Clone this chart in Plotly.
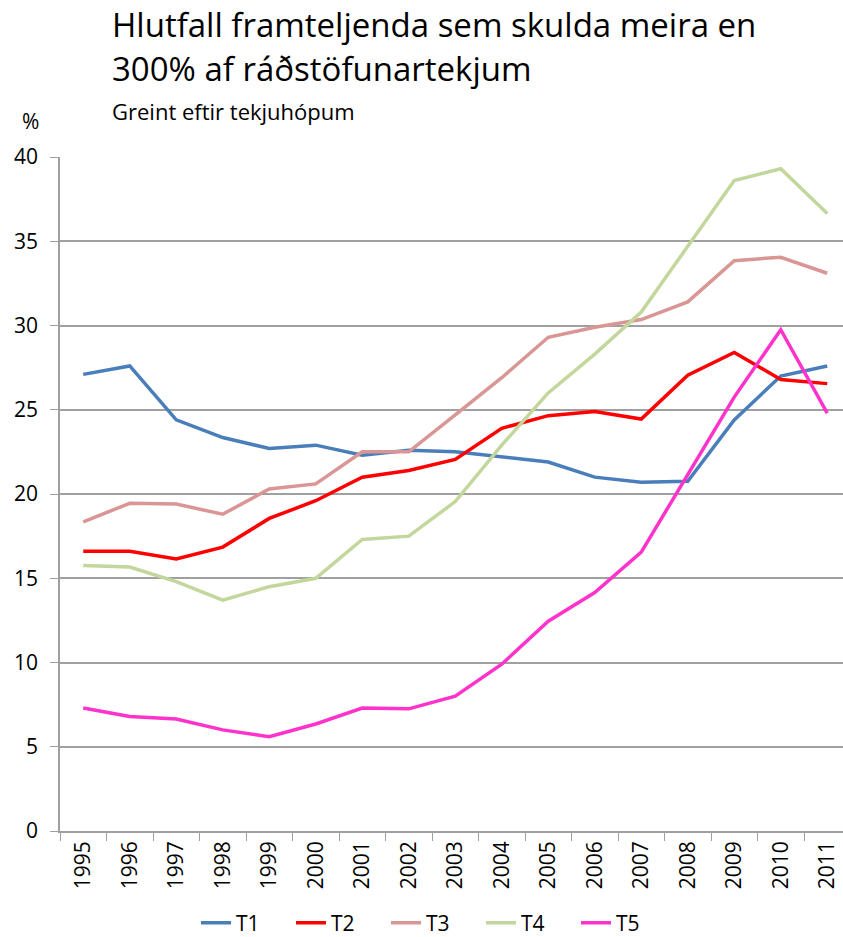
import plotly.graph_objects as go

years = [str(y) for y in range(1995, 2012)]
T1 = [27.1, 27.6, 24.4, 23.35, 22.7, 22.9, 22.3, 22.6, 22.5, 22.2, 21.9, 21.0, 20.7, 20.75, 24.4, 27.0, 27.6]
T2 = [16.6, 16.6, 16.15, 16.85, 18.55, 19.6, 21.0, 21.4, 22.05, 23.9, 24.65, 24.9, 24.45, 27.05, 28.4, 26.8, 26.55]
T3 = [18.35, 19.45, 19.4, 18.8, 20.3, 20.6, 22.5, 22.5, 24.7, 26.9, 29.3, 29.9, 30.35, 31.4, 33.85, 34.05, 33.1]
T4 = [15.75, 15.67, 14.8, 13.7, 14.5, 15.0, 17.3, 17.5, 19.55, 22.9, 26.0, 28.3, 30.8, 34.7, 38.6, 39.3, 36.65]
T5 = [7.3, 6.8, 6.65, 6.0, 5.6, 6.35, 7.3, 7.25, 8.0, 9.9, 12.45, 14.15, 16.55, 21.1, 25.75, 29.75, 24.8]

series = [("T1", T1, "#4a7ebb"), ("T2", T2, "#ff0000"), ("T3", T3, "#d99694"),
          ("T4", T4, "#c3d69b"), ("T5", T5, "#ff33cc")]

FONT = "Open Sans"
fig = go.Figure()
for name, vals, col in series:
    fig.add_trace(go.Scatter(x=years, y=vals, name=name, mode="lines",
                             line=dict(color=col, width=3.5)))

W, H = 843, 937
L, T, B = 60, 157, 106
ph = H - T - B
pw = W - L

def py(p):
    return (H - B - p) / ph

def px(p):
    return (p - L) / pw

fig.update_layout(
    width=W, height=H,
    margin=dict(l=L, r=0, t=T, b=B, autoexpand=False),
    plot_bgcolor="white", paper_bgcolor="white",
    font=dict(family=FONT, size=21, color="#000000"),
    showlegend=True,
    legend=dict(orientation="h", xref="container", yref="container",
                x=196 / W, xanchor="left", y=(H - 923) / H, yanchor="middle",
                font=dict(size=21), itemwidth=30, entrywidth=50, entrywidthmode="pixels"),
    xaxis=dict(type="category", range=[-0.5, pw / 46.5 - 0.5], automargin=False,
               showgrid=False, showline=True, linecolor="#a0a0a0", linewidth=1.5,
               ticks="outside", tickson="boundaries", ticklen=8, tickcolor="#a0a0a0",
               tickangle=-90, tickfont=dict(size=21)),
    yaxis=dict(range=[0, 40], dtick=5, showgrid=True, gridcolor="#a0a0a0", gridwidth=1.5,
               showline=True, linecolor="#a0a0a0", linewidth=1.5, automargin=False,
               ticks="outside", ticklen=8, tickcolor="#a0a0a0", zeroline=False,
               tickfont=dict(size=21), ticklabelstandoff=8),
    annotations=[
        dict(text="Hlutfall framteljenda sem skulda meira en", x=px(110), y=py(25),
             xref="paper", yref="paper", xanchor="left", yanchor="middle", showarrow=False,
             font=dict(size=33, family=FONT)),
        dict(text="300% af ráðstöfunartekjum", x=px(110), y=py(68),
             xref="paper", yref="paper", xanchor="left", yanchor="middle", showarrow=False,
             font=dict(size=33, family=FONT)),
        dict(text="Greint eftir tekjuhópum", x=px(110), y=py(111),
             xref="paper", yref="paper", xanchor="left", yanchor="middle", showarrow=False,
             font=dict(size=22, family=FONT)),
        dict(text="%", x=px(30), y=py(121),
             xref="paper", yref="paper", xanchor="center", yanchor="middle", showarrow=False,
             font=dict(size=21, family=FONT)),
    ],
)

fig.write_html("out.html", config={"displayModeBar": False},
               post_script="document.body.style.margin='0';document.body.style.overflow='hidden';")
